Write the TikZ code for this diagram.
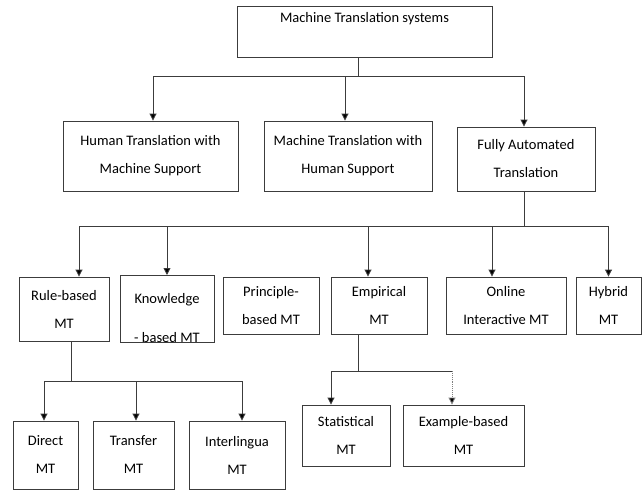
\documentclass[tikz,border=0pt]{standalone}
\usepackage{fontspec}
\setmainfont{Carlito}
\usetikzlibrary{arrows.meta, positioning}
\definecolor{lineblack}{RGB}{60,60,60}

\begin{document}
\begin{tikzpicture}[
        x=1pt, y=-1pt,
        box/.style={rectangle, draw=lineblack, line width=0.9pt, fill=white, inner sep=0pt, align=center, font=\fontsize{14.5}{28}\selectfont, execute at begin node={\rule{0pt}{17pt}}},
        link/.style={draw=lineblack, line width=0.9pt, -{Triangle[length=7pt, width=7pt, fill=black]}}
    ]
        \useasboundingbox (0,0) rectangle (643,491);

        % top level
        \node[box, minimum width=255pt, minimum height=51pt] (mts) at (364.5,31.5) {Machine Translation systems\\ \mbox{}};

        % first level
        \node[box, minimum width=175pt, minimum height=70pt] (htms) at (150.5,156) {Human Translation with\\Machine Support};
        \node[box, minimum width=168pt, minimum height=70pt] (mths) at (348,156) {Machine Translation with\\Human Support};
        \node[box, minimum width=138pt, minimum height=64pt] (fat) at (526,159) {Fully Automated\\Translation};

        % second level
        \node[box, minimum width=90pt, minimum height=64pt] (rbmt) at (64,309) {Rule-based\\MT};
        \node[box, minimum width=94pt, minimum height=64pt] (kbmt) at (167,309) {\rule{0pt}{28pt}Knowledge\\[11pt]- based MT};
        \node[box, minimum width=96pt, minimum height=57pt] (pbmt) at (271,305.5) {Principle-\\based MT};
        \node[box, minimum width=96pt, minimum height=57pt] (emt) at (379,305.5) {Empirical\\MT};
        \node[box, minimum width=120pt, minimum height=57pt] (oimt) at (506,305.5) {Online\\Interactive MT};
        \node[box, minimum width=65pt, minimum height=57pt] (hmt) at (608.5,305.5) {Hybrid\\MT};

        % third level
        \node[box, minimum width=65pt, minimum height=68pt] (dmt) at (45.5,455) {Direct\\MT};
        \node[box, minimum width=81pt, minimum height=68pt] (tmt) at (133.5,455) {Transfer\\MT};
        \node[box, minimum width=96pt, minimum height=68pt] (imt) at (237,455) {Interlingua\\MT};
        \node[box, minimum width=88pt, minimum height=61pt] (smt) at (346,435.5) {Statistical\\MT};
        \node[box, minimum width=121pt, minimum height=61pt] (ebmt) at (463.5,435.5) {Example-based\\MT};

        % junctions
        \coordinate (top) at (358,76);
        \coordinate (auto) at (524,226);
        \coordinate (rule) at (71,381);
        \coordinate (emp) at (358,371);

        \draw[draw=lineblack, line width=0.9pt] (top |- mts.south) -- (top);
        \draw[link] (top) -| ([xshift=2.5pt]htms.north);
        \draw[link] (top) -| ([xshift=-3pt]mths.north);
        \draw[link] (top) -| ([xshift=-2pt]fat.north);

        \draw[draw=lineblack, line width=0.9pt] (auto |- fat.south) -- (auto);
        \draw[link] (auto) -| ([xshift=15pt]rbmt.north);
        \draw[link] (auto) -| (kbmt.north);
        \draw[link] (auto) -| ([xshift=-11pt]emt.north);
        \draw[link] (auto) -| ([xshift=-14pt]oimt.north);
        \draw[link] (auto) -| (hmt.north);

        \draw[draw=lineblack, line width=0.9pt] (rule |- rbmt.south) -- (rule);
        \draw[link] (rule) -| ([xshift=-1.5pt]dmt.north);
        \draw[link] (rule) -| ([xshift=2.5pt]tmt.north);
        \draw[link] (rule) -| ([xshift=5pt]imt.north);

        \draw[draw=lineblack, line width=0.9pt] (emp |- emt.south) -- (emp);
        \draw[link] (emp) -| ([xshift=-15pt]smt.north);
        \coordinate (empr) at ([xshift=-11.5pt]ebmt.north |- emp);
        \draw[draw=lineblack, line width=0.9pt] (emp) -- (empr);
        \draw[link, draw=gray, densely dotted] (empr) -- ([xshift=-11.5pt]ebmt.north);
    \end{tikzpicture}
\end{document}
